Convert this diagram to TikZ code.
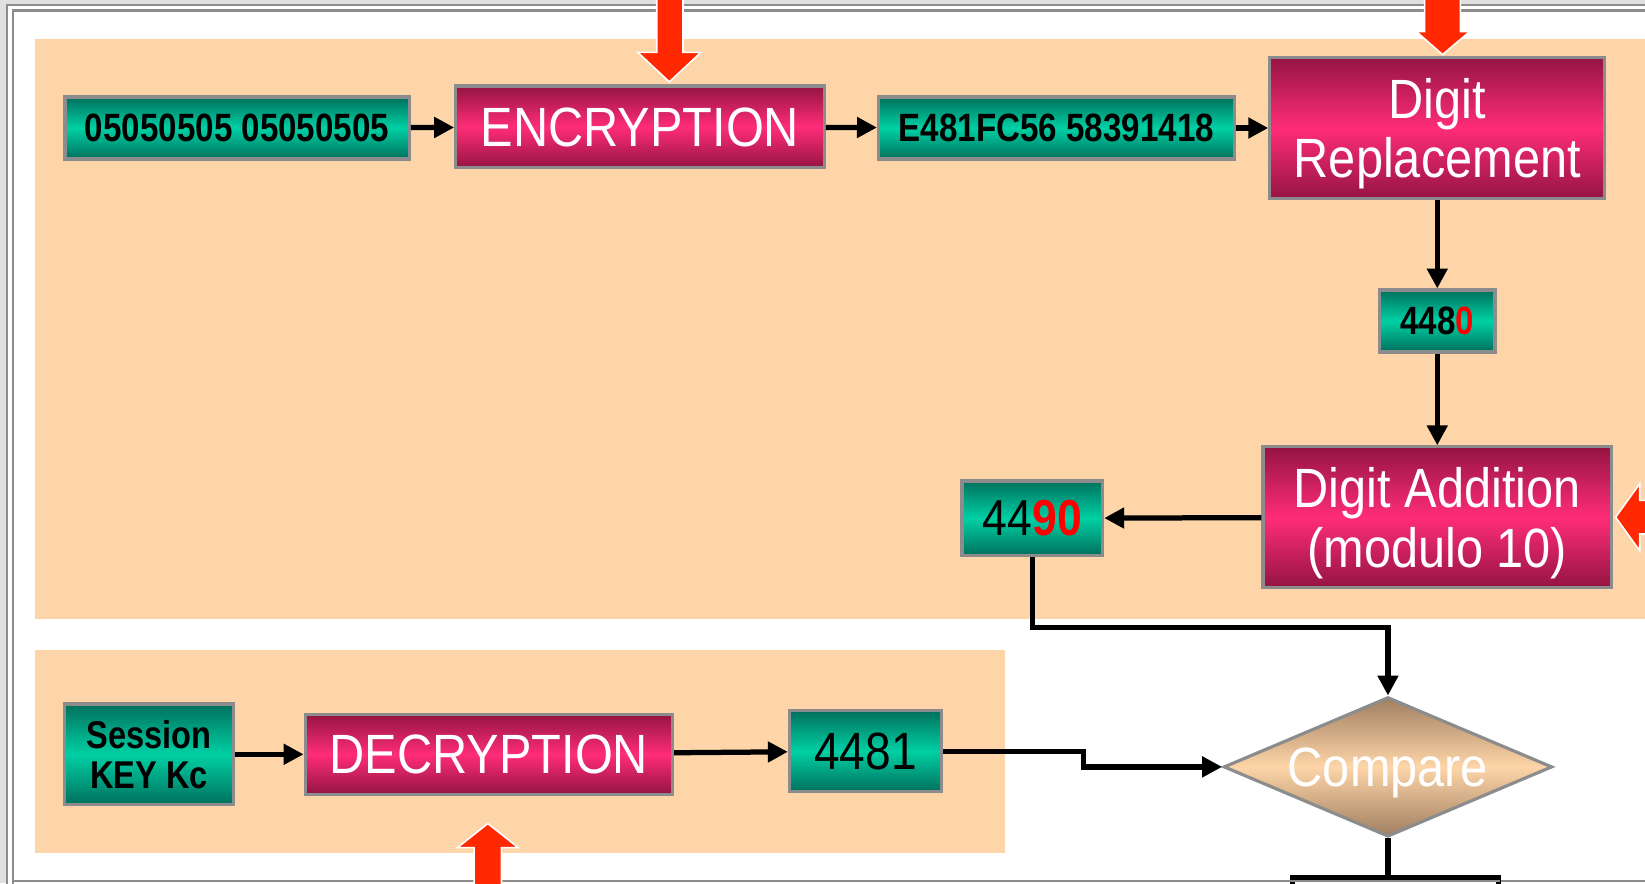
\documentclass[tikz,border=0pt]{standalone}
\usepackage{fontspec}
\setmainfont{Liberation Sans}[FakeStretch=0.88]
\newfontfamily\valfont{Liberation Sans}[FakeStretch=0.84]
\usetikzlibrary{shapes.geometric,arrows.meta}
\definecolor{peach}{RGB}{253,213,168}
\definecolor{tealdark}{RGB}{0,112,92}
\definecolor{teallight}{RGB}{0,208,164}
\definecolor{magdark}{RGB}{148,20,66}
\definecolor{maglight}{RGB}{255,44,120}
\definecolor{tandark}{RGB}{160,126,96}
\definecolor{boxedge}{RGB}{140,140,140}
\definecolor{hotred}{RGB}{255,40,0}
\begin{document}
\begin{tikzpicture}[x=0.01cm,y=-0.01cm,
	valbox/.style={draw=boxedge,line width=0.03cm,inner sep=0pt,top color=tealdark,bottom color=tealdark,middle color=teallight,align=center,font=\valfont\bfseries\fontsize{10.7}{11}\selectfont},
	procbox/.style={draw=boxedge,line width=0.03cm,inner sep=0pt,top color=magdark,bottom color=magdark,middle color=maglight,text=white,align=center,text depth=0pt,font=\fontsize{15}{16.2}\selectfont},
	flow/.style={line width=0.05cm,-{Triangle[length=0.19cm,width=0.19cm]}},
	redarrow/.style={fill=hotred,draw=white,line width=0.015cm}]
\useasboundingbox (0,0) rectangle (1568,842);
\fill[black!12] (0,0) rectangle (1568,842);
\fill[white] (7,5) rectangle (1580,850);
\draw[boxedge,line width=0.02cm] (7,850) |- (1580,5) (12,850) |- (1580,10) (12,840) -- (1580,840);
\fill[peach] (33,37) rectangle (1580,590);
\fill[peach] (33,620) rectangle (958,813);

\node[valbox,minimum width=3.28cm,minimum height=0.59cm] (in1) at (226,122) {05050505 05050505};
\node[procbox,minimum width=3.51cm,minimum height=0.78cm] (enc) at (610,121) {ENCRYPTION};
\node[valbox,minimum width=3.39cm,minimum height=0.59cm] (ct) at (1007,122) {E481FC56 58391418};
\node[procbox,minimum width=3.19cm,minimum height=1.35cm] (drep) at (1370,122) {Digit\\Replacement};
\node[valbox,minimum width=1.10cm,minimum height=0.59cm] (d1) at (1370,306) {448\textcolor{red}{0}};
\node[procbox,minimum width=3.32cm,minimum height=1.34cm] (dadd) at (1370,493) {Digit Addition\\(modulo 10)};
\node[valbox,minimum width=1.34cm,minimum height=0.71cm,font=\fontsize{13.7}{14}\selectfont] (d2) at (984,494) {44\textcolor{red}{\bfseries 90}};
\node[valbox,minimum width=1.61cm,minimum height=0.96cm,font=\valfont\bfseries\fontsize{10.5}{10.8}\selectfont] (key) at (142,719) {Session\\KEY Kc};
\node[procbox,minimum width=3.50cm,minimum height=0.76cm] (dec) at (466,719) {DECRYPTION};
\node[valbox,minimum width=1.45cm,minimum height=0.77cm,font=\fontsize{14.2}{15}\selectfont] (d3) at (825,716) {4481};
\node[diamond,aspect=2.35,draw=boxedge,line width=0.03cm,inner sep=0pt,minimum width=3.13cm,minimum height=1.33cm,top color=tandark,bottom color=tandark,middle color=peach,text=white,text depth=0pt,font=\fontsize{15}{16}\selectfont] (cmp) at (1323,731) {Compare};
\node[draw,line width=0.05cm,fill=white,minimum width=1.96cm,minimum height=0.8cm] (res) at (1330,877) {};
\draw[boxedge,line width=0.02cm] (1230,840) -- (1430,840);

\draw[flow] (in1) -- (enc);
\draw[flow] (enc) -- (ct);
\draw[flow] (ct) -- (drep);
\draw[flow] (drep) -- (d1);
\draw[flow] (d1) -- (dadd);
\draw[flow] (dadd) -- (d2);
\draw[flow] (d2.south) -- ++(0,67) -| (cmp.north);
\draw[flow] (key) -- (dec);
\draw[flow] (dec) -- (d3);
\draw[flow] (d3.east) -- ++(134,0) |- (cmp.west);
\draw[line width=0.05cm] (cmp.south) -- (cmp.south |- res.north);

\draw[redarrow] (626,-10) -- (626,50) -- (608,50) -- (638,78) -- (668,50) -- (651,50) -- (651,-10) -- cycle;
\draw[redarrow] (1358,-10) -- (1358,30) -- (1350,30) -- (1375,52) -- (1401,30) -- (1392,30) -- (1392,-10) -- cycle;
\draw[redarrow] (1540,493) -- (1563,461) -- (1563,477) -- (1600,477) -- (1600,509) -- (1563,509) -- (1563,525) -- cycle;
\draw[redarrow] (465,785) -- (494,808) -- (478,808) -- (478,860) -- (452,860) -- (452,808) -- (436,808) -- cycle;
\end{tikzpicture}
\end{document}
